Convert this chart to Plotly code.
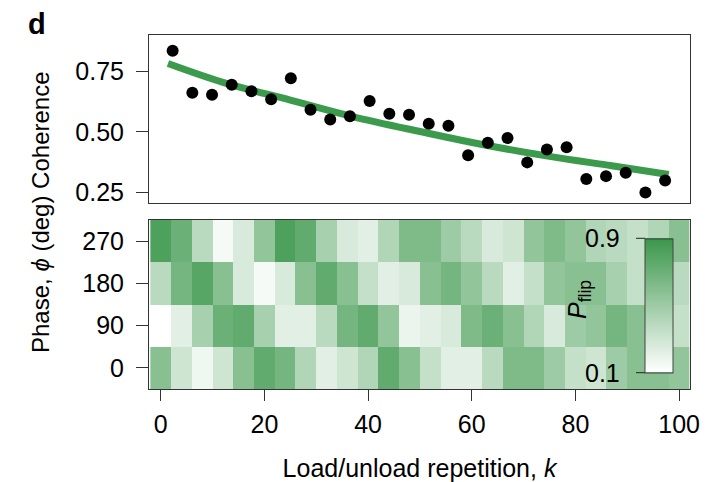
import plotly.graph_objects as go

# ---------------- data ----------------
k_points = [2.3, 6.1, 9.9, 13.7, 17.5, 21.3, 25.1, 28.9, 32.7, 36.5, 40.3, 44.1, 47.9,
            51.7, 55.5, 59.3, 63.1, 66.9, 70.7, 74.5, 78.3, 82.1, 85.9, 89.7, 93.5, 97.3]
coherence = [0.837, 0.663, 0.654, 0.696, 0.669, 0.636, 0.723, 0.592, 0.552, 0.565, 0.628, 0.576, 0.571,
             0.534, 0.526, 0.404, 0.455, 0.475, 0.374, 0.427, 0.437, 0.305, 0.317, 0.331, 0.249, 0.299]

fit_k = [1.4, 12, 25, 37, 50, 62, 75, 87, 98]
fit_coh = [0.784, 0.706, 0.632, 0.564, 0.502, 0.448, 0.399, 0.360, 0.324]

k_cols = [0, 4, 8, 12, 16, 20, 24, 28, 32, 36, 40, 44, 48, 52, 56, 60, 64, 68, 72, 76, 80, 84, 88, 92, 96, 100]
phases = [0, 90, 180, 270]
# intensity (0 = white, 1 = darkest green)
inten_0 =   [0.60, 0.25, 0.08, 0.25, 0.60, 0.80, 0.70, 0.40, 0.15, 0.25, 0.40, 0.80, 0.60,
             0.30, 0.15, 0.15, 0.35, 0.65, 0.65, 0.50, 0.30, 0.25, 0.50, 0.60, 0.60, 0.55]
inten_90 =  [0.00, 0.15, 0.45, 0.75, 0.80, 0.45, 0.15, 0.15, 0.35, 0.70, 0.80, 0.55, 0.10,
             0.15, 0.20, 0.65, 0.75, 0.60, 0.40, 0.20, 0.50, 0.55, 0.70, 0.60, 0.55, 0.30]
inten_180 = [0.35, 0.70, 0.85, 0.60, 0.20, 0.05, 0.20, 0.60, 0.80, 0.60, 0.30, 0.15, 0.20,
             0.60, 0.70, 0.55, 0.35, 0.15, 0.30, 0.55, 0.60, 0.60, 0.45, 0.30, 0.25, 0.35]
inten_270 = [0.90, 0.75, 0.35, 0.05, 0.20, 0.55, 0.90, 0.80, 0.45, 0.20, 0.15, 0.40, 0.65,
             0.65, 0.50, 0.35, 0.20, 0.25, 0.55, 0.65, 0.55, 0.40, 0.35, 0.30, 0.40, 0.60]
p_min, p_max = 0.1, 0.9
p_flip = [[p_min + (p_max - p_min) * v for v in row] for row in (inten_0, inten_90, inten_180, inten_270)]

coh_ticks = [0.25, 0.50, 0.75]
k_ticks = [0, 20, 40, 60, 80, 100]

# ---------------- style ----------------
FONT = "Liberation Sans, Arial, Helvetica, sans-serif"
FS = 25
GREEN = "#3b9a4b"
AX = "#333333"
W, H = 715, 482
ML, MR, MT, MB = 149, 25, 35, 93
PW, PH = W - ML - MR, H - MT - MB

fig = go.Figure()

fig.add_trace(go.Scatter(x=fit_k, y=fit_coh, mode="lines", line=dict(color=GREEN, width=7, shape="spline"),
                         xaxis="x", yaxis="y", showlegend=False, hoverinfo="skip"))
fig.add_trace(go.Scatter(x=k_points, y=coherence, mode="markers",
                         marker=dict(color="black", size=12, line=dict(width=0)),
                         xaxis="x", yaxis="y", showlegend=False))

# colorbar geometry (pixels)
cb_left, cb_right = 645, 673
cb_top, cb_bot = 238.3, 372.7
cb_x = (cb_left - ML) / PW
cb_len = cb_bot - cb_top
cb_yc = (H - MB - (cb_top + cb_bot) / 2) / PH

fig.add_trace(go.Heatmap(
    x=k_cols, y=phases, z=p_flip, zmin=p_min, zmax=p_max,
    colorscale=[[0, "#ffffff"], [1, "#3a964a"]],
    xaxis="x2", yaxis="y2",
    colorbar=dict(x=cb_x, xanchor="left", xpad=0, ypad=0, thickness=cb_right - cb_left,
                  thicknessmode="pixels", lenmode="pixels", len=cb_len, y=cb_yc, yanchor="middle",
                  outlinewidth=1, outlinecolor="#444444", showticklabels=False, ticks="")
))

x_range = [-2.26, 102.1]
top_dom = [(H - MB - 203) / PH, 1.0]
bot_dom = [0.0, (H - MB - 220) / PH]

fig.update_layout(
    width=W, height=H,
    margin=dict(l=ML, r=MR, t=MT, b=MB, autoexpand=False),
    paper_bgcolor="white", plot_bgcolor="white",
    font=dict(family=FONT, size=FS, color="black"),
    xaxis=dict(domain=[0, 1], range=x_range, showticklabels=False, ticks="", showgrid=False,
               zeroline=False, showline=True, mirror=True, linecolor=AX, linewidth=1, anchor="y",
               automargin=False),
    yaxis=dict(domain=top_dom, range=[0.2056, 0.902], tickvals=coh_ticks,
               ticktext=["%.2f" % v for v in coh_ticks], ticks="outside", ticklen=12, tickcolor=AX,
               ticklabelstandoff=7, showgrid=False, zeroline=False, showline=True, mirror=True,
               linecolor=AX, linewidth=1, anchor="x", automargin=False),
    xaxis2=dict(domain=[0, 1], range=x_range, tickvals=k_ticks, ticks="outside", ticklen=11,
                tickcolor=AX, ticklabelstandoff=2, showgrid=False, zeroline=False, showline=True,
                mirror=True, linecolor=AX, linewidth=1, anchor="y2", automargin=False,
                title=dict(text="Load/unload repetition, <i>k</i>", standoff=22, font=dict(size=FS))),
    yaxis2=dict(domain=bot_dom, range=[-45, 315], tickvals=phases, ticks="outside", ticklen=12,
                tickcolor=AX, ticklabelstandoff=7, showgrid=False, zeroline=False, showline=True,
                mirror=True, linecolor=AX, linewidth=1, anchor="x2", automargin=False),
)

# shared y title spanning both panels
fig.add_annotation(text="Phase, <i>ϕ</i> (deg) Coherence", textangle=-90, xref="paper", yref="paper",
                   x=(40 - ML) / PW, y=0.5, xanchor="center", yanchor="middle", showarrow=False,
                   font=dict(size=24))
# panel letter
fig.add_annotation(text="<b>d</b>", xref="paper", yref="paper", x=(26 - ML) / PW, y=(H - MB - 24) / PH,
                   xanchor="left", yanchor="middle", showarrow=False, font=dict(size=29))

# colorbar ticks/labels on the left side
for v in (p_min, p_max):
    ypx = cb_bot - (v - p_min) / (p_max - p_min) * cb_len
    yp = (H - MB - ypx) / PH
    fig.add_shape(type="line", xref="paper", yref="paper", x0=(636 - ML) / PW, x1=cb_x, y0=yp, y1=yp,
                  line=dict(color="#222222", width=1))
    fig.add_annotation(text="%.1f" % v, xref="paper", yref="paper", x=(622 - ML) / PW, y=yp,
                       xanchor="right", yanchor="middle", showarrow=False, font=dict(size=FS))
fig.add_annotation(text="<i>P</i><sub>flip</sub>", textangle=-90, xref="paper", yref="paper",
                   x=(579 - ML) / PW, y=(H - MB - 300) / PH, xanchor="center", yanchor="middle",
                   showarrow=False, font=dict(size=FS))

fig.write_html("out.html")
